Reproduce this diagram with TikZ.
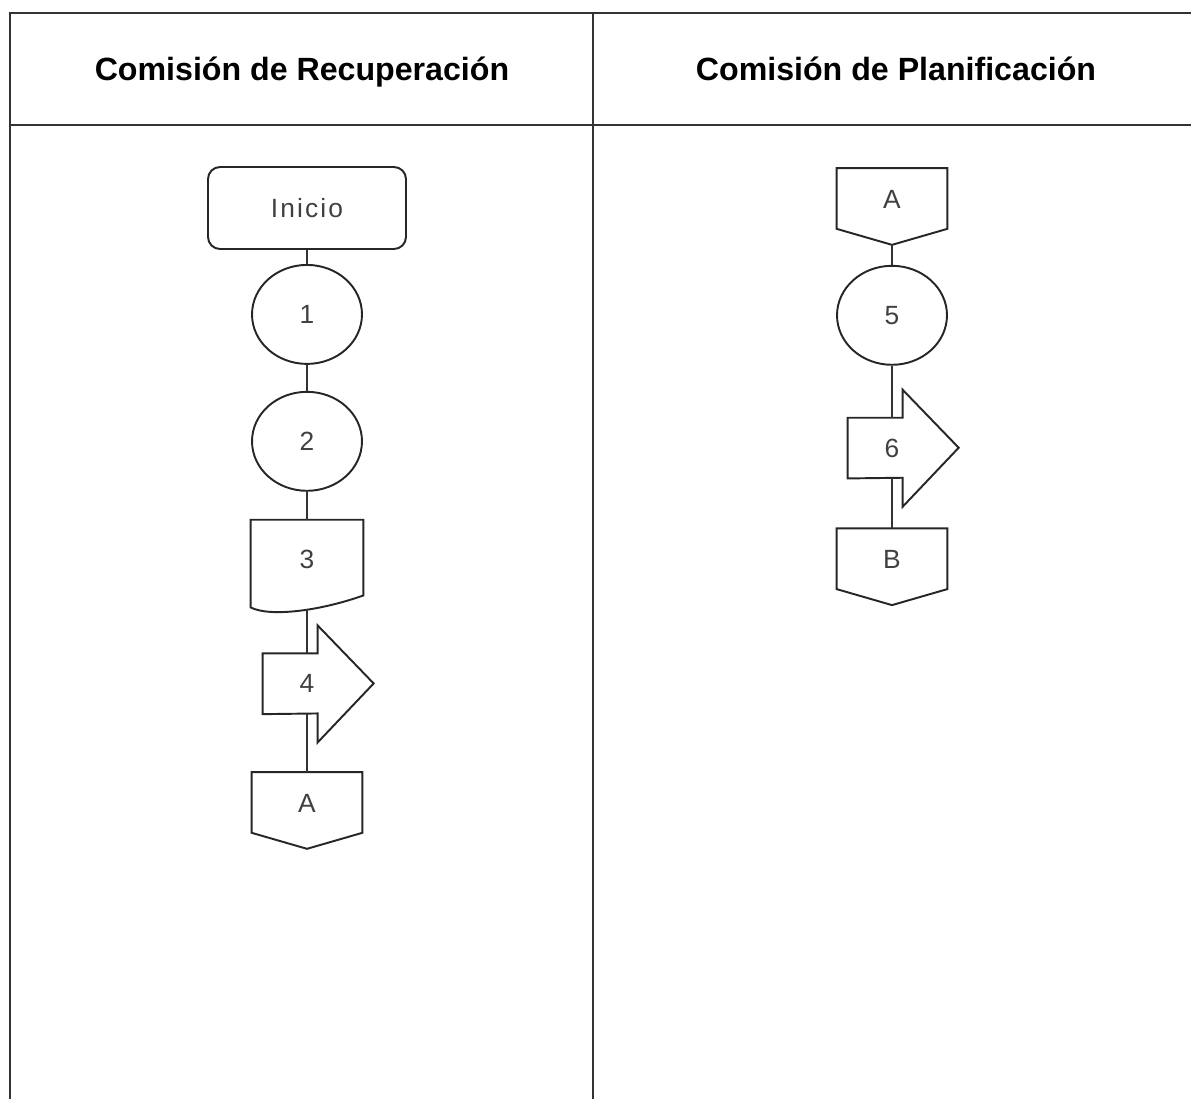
\documentclass[tikz,border=0pt]{standalone}
\usepackage{fontspec}
\setmainfont{Liberation Sans}
\newfontfamily\espaciada[LetterSpace=8]{Liberation Sans}
\usetikzlibrary{calc,
                positioning,
                shapes.geometric}
\tikzset{
	%Define style for the column titles
	titulo/.style={
	       anchor=base,
	       font=\bfseries\fontsize{18.3}{22}\selectfont,
	       text=black},
	%Define style for the shapes
	forma/.style={
	       draw=black!85,
	       line width=1.1pt},
	terminal/.style={
	       forma,
	       rectangle,
	       rounded corners=0.24cm,
	       minimum width=3.96cm,
	       minimum height=1.64cm,
	       font=\espaciada\fontsize{15}{18}\selectfont,
	       text=black!75},
	proceso/.style={
	       forma,
	       ellipse,
	       minimum width=2.2cm,
	       minimum height=1.98cm,
	       font=\fontsize{15}{18}\selectfont,
	       text=black!75},
	documento/.style={
	       rectangle,
	       minimum width=2.24cm,
	       minimum height=1.78cm,
	       text depth=0.2cm,
	       font=\fontsize{15}{18}\selectfont,
	       text=black!75,
	       append after command={\pgfextra{
	         \draw[forma] (\tikzlastnode.north west) -- (\tikzlastnode.north east)
	           -- ($(\tikzlastnode.south east)+(0,-14)$)
	           .. controls ($(\tikzlastnode.south east)+(-42,1)$)
	           and ($(\tikzlastnode.south west)+(20,8)$)
	           .. ($(\tikzlastnode.south west)+(0,-2)$) -- cycle;}}},
	envio/.style={
	       rectangle,
	       minimum width=1.76cm,
	       minimum height=1.2cm,
	       font=\fontsize{15}{18}\selectfont,
	       text=black!75,
	       append after command={\pgfextra{
	         \draw[forma] (\tikzlastnode.north west) -- ++(55,0) -- ++(0,-28)
	           -- ++(56,58) -- ++(-56,59) -- ++(0,-29)
	           -- (\tikzlastnode.south west) -- cycle;}}},
	conector/.style={
	       rectangle,
	       minimum width=2.2cm,
	       minimum height=1.52cm,
	       text depth=0.3cm,
	       font=\fontsize{15}{18}\selectfont,
	       text=black!75,
	       append after command={\pgfextra{
	         \draw[forma] (\tikzlastnode.north west) -- (\tikzlastnode.north east)
	           -- ($(\tikzlastnode.south east)+(0,-16)$) -- (\tikzlastnode.south)
	           -- ($(\tikzlastnode.south west)+(0,-16)$) -- cycle;}}},
	% Define line style
	linea/.style={
	       draw=black!80,
	       line width=1pt}
}
\begin{document}
\begin{tikzpicture}[x=0.02cm, y=-0.02cm] % pixel grid, y downwards
		\useasboundingbox (0,0) rectangle (1191,1099);
		% table
		\draw[line width=1.1pt, black!80] (1191,13) -- (10,13) -- (10,1099);
		\draw[line width=1.1pt, black!80] (10,125) -- (1191,125);
		\draw[line width=1.1pt, black!80] (593,13) -- (593,1099);
		\node[titulo] (tit_recuperacion) at (302,80) {Comisión de Recuperación};
		\node[titulo] (tit_planificacion) at (896,80) {Comisión de Planificación};
		% left column
		\node[terminal] (inicio) at (307,208) {Inicio};
		\node[proceso, below=0.28cm of inicio](paso_1){1}
		edge[linea](inicio);
		\node[proceso, below=0.52cm of paso_1](paso_2){2}
		edge[linea](paso_1);
		\node[documento, below=0.56cm of paso_2](paso_3){3}
		edge[linea](paso_2);
		\node[envio, below=0.88cm of paso_3](paso_4){4}
		edge[linea](paso_3);
		\node[conector, below=1.16cm of paso_4](conector_a){A}
		edge[linea](paso_4);
		% right column
		\node[conector] (conector_a2) at (892,206.5) {A};
		\node[proceso, below=0.4cm of conector_a2](paso_5){5}
		edge[linea](conector_a2);
		\node[envio, below=1.04cm of paso_5](paso_6){6}
		edge[linea](paso_5);
		\node[conector, below=1.0cm of paso_6](conector_b){B}
		edge[linea](paso_6);
\end{tikzpicture}
\end{document}
